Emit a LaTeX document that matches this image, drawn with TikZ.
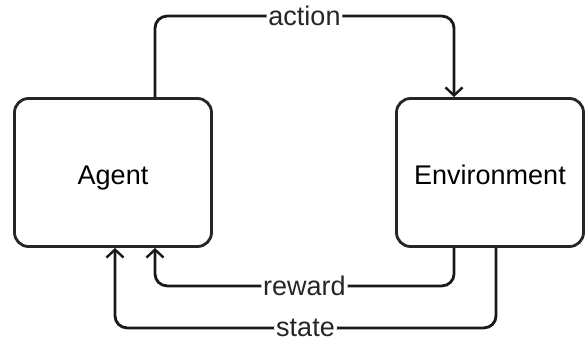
\documentclass[tikz,border=0pt]{standalone}
\usepackage{fontspec}
\setmainfont{Liberation Sans}
\usetikzlibrary{arrows.meta}
\begin{document}
\begin{tikzpicture}[x=1pt,y=1pt,
    block/.style={draw=black!85,line width=2.8pt,rounded corners=14pt,fill=white,inner sep=0pt,text height=24pt,text depth=0pt},
    flow/.style={draw=black!90,line width=2.8pt,rounded corners=12pt,-{Straight Barb[length=8pt,width=17pt,line width=2.4pt]}},
    lbl/.style={fill=white,inner sep=2pt,text=black!85},
    font=\fontsize{27}{32}\selectfont]
                \useasboundingbox (0,0) rectangle (587,341);
                \node[block,minimum width=197,minimum height=148] (agent) at (113,168.5) {Agent};
                \node[block,minimum width=187,minimum height=148] (env) at (490,168.5) {Environment};

                \draw[flow] ([xshift=42]agent.north) -- ++(0,81) -| node[lbl,pos=0.25] {action} ([xshift=-36]env.north);
                \draw[flow] ([xshift=-36]env.south) -- ++(0,-38) -| node[lbl,pos=0.25] {reward} ([xshift=42]agent.south);
                \draw[flow] ([xshift=6]env.south) -- ++(0,-80) -| node[lbl,pos=0.25] {state} ([xshift=2]agent.south);
\end{tikzpicture}
\end{document}
